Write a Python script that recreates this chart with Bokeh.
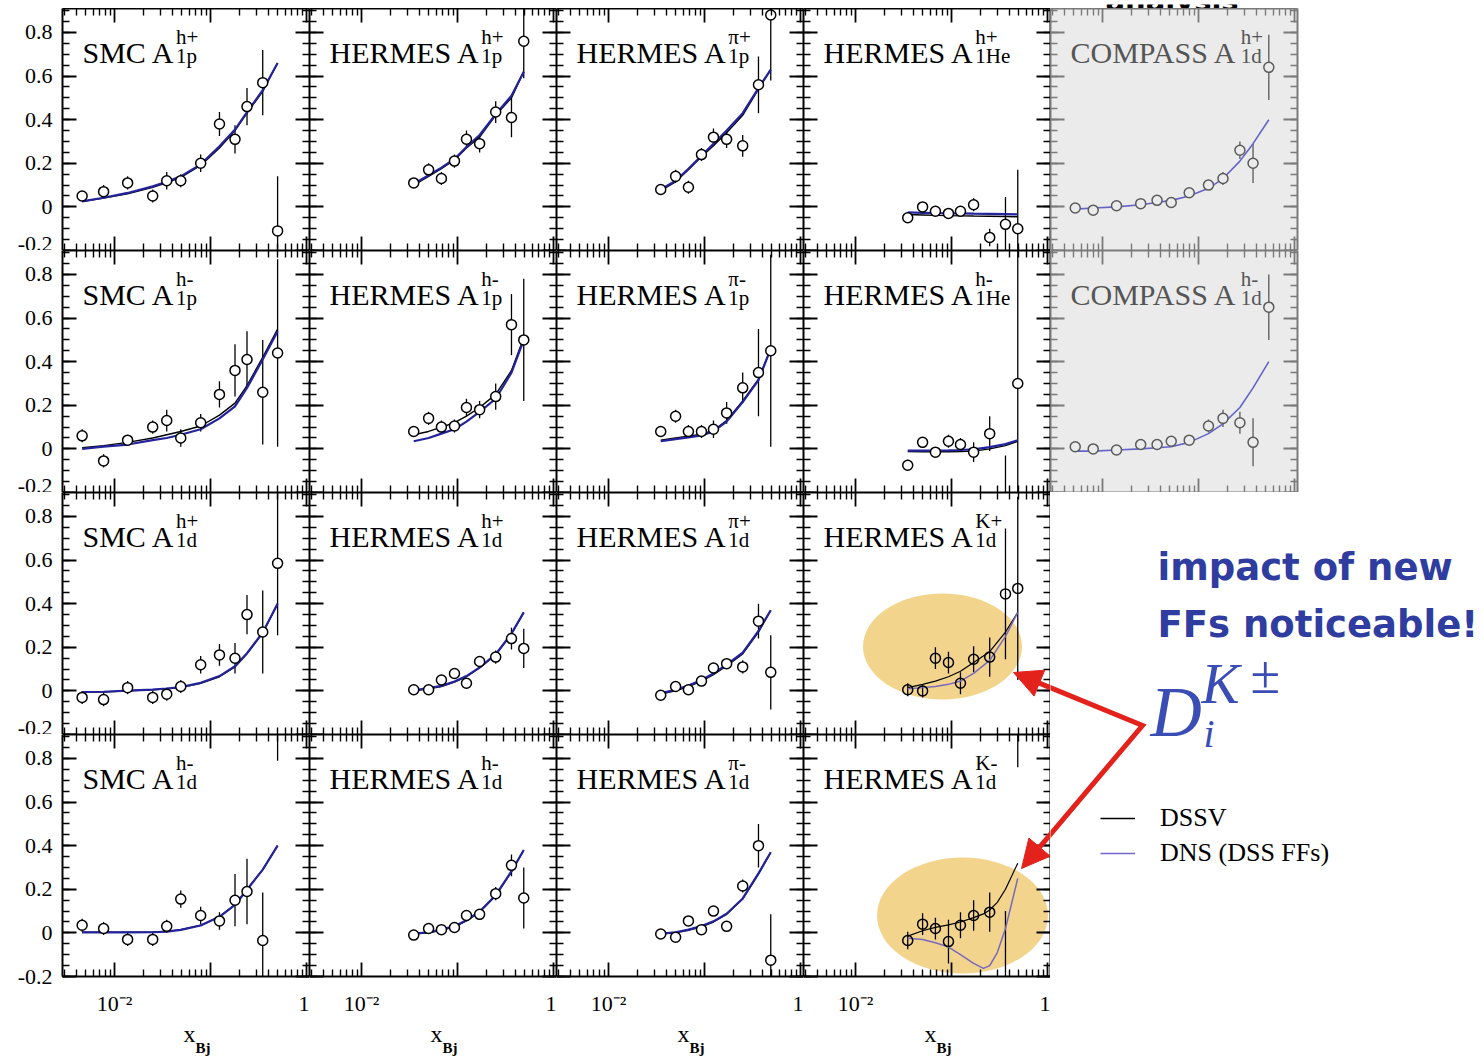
import math
from bokeh.plotting import figure
from bokeh.models import (Range1d, FixedTicker, CustomJSTickFormatter, LinearAxis, LogAxis,
                          Label, Arrow, NormalHead, Legend, LegendItem)
from bokeh.layouts import row, column
from bokeh.embed import file_html
from bokeh.resources import INLINE

# ------------------------------------------------------------------ data
SMC_X = [0.0046, 0.0077, 0.0137, 0.025, 0.035, 0.049, 0.079, 0.124, 0.18, 0.24, 0.35, 0.50]
HERMES_X = [0.035, 0.05, 0.068, 0.093, 0.124, 0.17, 0.25, 0.365, 0.49]
COMPASS_X = [0.0052, 0.008, 0.014, 0.025, 0.037, 0.052, 0.08, 0.127, 0.18, 0.27, 0.37, 0.54]
KMINUS_THEORY_X = [0.035, 0.05, 0.068, 0.093, 0.124, 0.17, 0.215, 0.25, 0.3, 0.365, 0.49]

# row 1
SMC_P_HP_Y = [0.05, 0.07, 0.11, 0.05, 0.12, 0.12, 0.20, 0.38, 0.31, 0.46, 0.57, -0.11]
SMC_P_HP_ERR = [0.02, 0.03, 0.03, 0.03, 0.04, 0.03, 0.04, 0.055, 0.065, 0.085, 0.15, 0.25]
SMC_P_HP_DSSV = [0.025, 0.04, 0.06, 0.09, 0.11, 0.135, 0.19, 0.27, 0.35, 0.43, 0.53, 0.66]
SMC_P_HP_DNS = [0.025, 0.042, 0.064, 0.094, 0.115, 0.14, 0.195, 0.278, 0.355, 0.435, 0.535, 0.66]

HER_P_HP_Y = [0.11, 0.17, 0.13, 0.21, 0.31, 0.29, 0.435, 0.41, 0.76]
HER_P_HP_ERR = [0.02, 0.03, 0.03, 0.03, 0.04, 0.04, 0.05, 0.09, 0.17]
HER_P_HP_DSSV = [0.10, 0.14, 0.175, 0.215, 0.27, 0.32, 0.42, 0.50, 0.62]
HER_P_HP_DNS = [0.105, 0.145, 0.18, 0.22, 0.275, 0.33, 0.425, 0.51, 0.62]

HER_P_PIP_Y = [0.08, 0.14, 0.09, 0.24, 0.32, 0.31, 0.28, 0.56, 0.88]
HER_P_PIP_ERR = [0.02, 0.03, 0.03, 0.03, 0.04, 0.04, 0.05, 0.13, 0.30]
HER_P_PIP_DSSV = [0.075, 0.115, 0.17, 0.23, 0.28, 0.34, 0.42, 0.54, 0.63]
HER_P_PIP_DNS = [0.08, 0.12, 0.175, 0.235, 0.29, 0.35, 0.43, 0.545, 0.63]

HER_HE_HP_Y = [-0.05, 0.0, -0.02, -0.03, -0.02, 0.01, -0.14, -0.08, -0.10]
HER_HE_HP_ERR = [0.015, 0.015, 0.015, 0.015, 0.015, 0.03, 0.04, 0.125, 0.27]
HER_HE_HP_DSSV = [-0.035, -0.037, -0.039, -0.04, -0.041, -0.042, -0.043, -0.044, -0.045]
HER_HE_HP_DNS = [-0.025, -0.027, -0.029, -0.03, -0.03, -0.031, -0.032, -0.033, -0.034]

COM_D_HP_Y = [-0.005, -0.015, 0.005, 0.015, 0.03, 0.02, 0.065, 0.10, 0.13, 0.26, 0.20, 0.64]
COM_D_HP_ERR = [0.01, 0.01, 0.01, 0.01, 0.01, 0.01, 0.015, 0.02, 0.03, 0.04, 0.09, 0.15]
COM_D_HP_DNS = [-0.01, -0.005, 0.0, 0.01, 0.02, 0.03, 0.05, 0.085, 0.13, 0.21, 0.29, 0.40]

# row 2
SMC_P_HM_Y = [0.06, -0.055, 0.04, 0.10, 0.13, 0.05, 0.12, 0.25, 0.36, 0.41, 0.26, 0.44]
SMC_P_HM_ERR = [0.03, 0.03, 0.02, 0.03, 0.05, 0.04, 0.04, 0.06, 0.12, 0.13, 0.24, 0.43]
SMC_P_HM_DSSV = [0.005, 0.015, 0.03, 0.05, 0.065, 0.08, 0.105, 0.155, 0.21, 0.29, 0.42, 0.55]
SMC_P_HM_DNS = [0.0, 0.01, 0.02, 0.04, 0.05, 0.065, 0.09, 0.14, 0.195, 0.28, 0.41, 0.54]

HER_P_HM_Y = [0.08, 0.14, 0.10, 0.105, 0.19, 0.18, 0.24, 0.57, 0.50]
HER_P_HM_ERR = [0.02, 0.03, 0.03, 0.03, 0.04, 0.04, 0.06, 0.14, 0.28]
HER_P_HM_DSSV = [0.065, 0.08, 0.10, 0.12, 0.15, 0.19, 0.25, 0.36, 0.51]
HER_P_HM_DNS = [0.035, 0.05, 0.07, 0.09, 0.125, 0.17, 0.23, 0.35, 0.50]

HER_P_PIM_Y = [0.08, 0.15, 0.08, 0.08, 0.09, 0.165, 0.28, 0.35, 0.45]
HER_P_PIM_ERR = [0.02, 0.03, 0.03, 0.03, 0.04, 0.05, 0.07, 0.2, 0.44]
HER_P_PIM_DSSV = [0.04, 0.05, 0.058, 0.067, 0.085, 0.13, 0.22, 0.32, 0.46]
HER_P_PIM_DNS = [0.035, 0.045, 0.053, 0.062, 0.08, 0.125, 0.215, 0.315, 0.46]

HER_HE_HM_Y = [-0.075, 0.03, -0.015, 0.035, 0.02, -0.015, 0.07, -0.35, 0.30]
HER_HE_HM_ERR = [0.025, 0.02, 0.02, 0.03, 0.03, 0.045, 0.08, 0.32, 0.9]
HER_HE_HM_DSSV = [-0.012, -0.013, -0.013, -0.013, -0.012, -0.01, 0.0, 0.015, 0.035]
HER_HE_HM_DNS = [-0.008, -0.008, -0.008, -0.007, -0.005, -0.002, 0.008, 0.022, 0.04]

COM_D_HM_Y = [0.01, 0.0, -0.005, 0.02, 0.02, 0.035, 0.04, 0.105, 0.14, 0.12, 0.03, 0.65]
COM_D_HM_ERR = [0.01, 0.01, 0.01, 0.01, 0.01, 0.015, 0.015, 0.03, 0.04, 0.05, 0.11, 0.15]
COM_D_HM_DNS = [-0.01, -0.01, -0.005, 0.0, 0.005, 0.01, 0.03, 0.07, 0.115, 0.19, 0.28, 0.40]

# row 3
SMC_D_HP_Y = [-0.03, -0.04, 0.015, -0.03, -0.015, 0.02, 0.12, 0.165, 0.15, 0.35, 0.27, 0.585]
SMC_D_HP_ERR = [0.03, 0.03, 0.03, 0.03, 0.03, 0.03, 0.04, 0.05, 0.07, 0.09, 0.19, 0.33]
SMC_D_HP_DSSV = [-0.005, -0.005, 0.0, 0.005, 0.01, 0.015, 0.035, 0.065, 0.11, 0.17, 0.265, 0.40]
SMC_D_HP_DNS = [-0.005, -0.004, 0.001, 0.006, 0.011, 0.017, 0.037, 0.068, 0.113, 0.173, 0.268, 0.40]

HER_D_HP_Y = [0.005, 0.005, 0.05, 0.08, 0.035, 0.135, 0.155, 0.24, 0.195]
HER_D_HP_ERR = [0.015, 0.015, 0.02, 0.02, 0.02, 0.025, 0.03, 0.05, 0.09]
HER_D_HP_DSSV = [0.0, 0.01, 0.02, 0.04, 0.065, 0.105, 0.165, 0.26, 0.36]
HER_D_HP_DNS = [0.003, 0.013, 0.023, 0.043, 0.068, 0.108, 0.168, 0.263, 0.36]

HER_D_PIP_Y = [-0.02, 0.02, 0.005, 0.045, 0.105, 0.125, 0.11, 0.32, 0.085]
HER_D_PIP_ERR = [0.015, 0.015, 0.02, 0.02, 0.02, 0.025, 0.03, 0.08, 0.17]
HER_D_PIP_DSSV = [-0.015, 0.0, 0.02, 0.045, 0.075, 0.115, 0.17, 0.27, 0.37]
HER_D_PIP_DNS = [-0.01, 0.005, 0.025, 0.05, 0.08, 0.12, 0.175, 0.275, 0.37]

HER_D_KP_Y = [0.005, 0.0, 0.15, 0.13, 0.035, 0.145, 0.155, 0.445, 0.47]
HER_D_KP_ERR = [0.03, 0.03, 0.05, 0.05, 0.05, 0.06, 0.09, 0.30, 0.42]
HER_D_KP_DSSV = [0.015, 0.03, 0.045, 0.065, 0.09, 0.13, 0.18, 0.27, 0.36]
HER_D_KP_DNS = [0.01, 0.015, 0.02, 0.03, 0.045, 0.08, 0.14, 0.25, 0.36]

# row 4
SMC_D_HM_Y = [0.035, 0.02, -0.03, -0.03, 0.03, 0.155, 0.08, 0.055, 0.15, 0.19, -0.035, 1.2]
SMC_D_HM_ERR = [0.03, 0.03, 0.03, 0.03, 0.03, 0.04, 0.04, 0.04, 0.12, 0.15, 0.22, 0.41]
SMC_D_HM_DSSV = [0.003, 0.003, 0.003, 0.004, 0.007, 0.015, 0.035, 0.075, 0.13, 0.20, 0.29, 0.40]
SMC_D_HM_DNS = [0.002, 0.002, 0.002, 0.003, 0.006, 0.014, 0.034, 0.074, 0.128, 0.198, 0.29, 0.40]

HER_D_HM_Y = [-0.01, 0.02, 0.015, 0.025, 0.08, 0.085, 0.18, 0.31, 0.16]
HER_D_HM_ERR = [0.015, 0.015, 0.015, 0.02, 0.02, 0.025, 0.03, 0.05, 0.14]
HER_D_HM_DSSV = [-0.005, 0.0, 0.012, 0.028, 0.055, 0.095, 0.17, 0.28, 0.38]
HER_D_HM_DNS = [-0.003, 0.003, 0.015, 0.031, 0.058, 0.098, 0.173, 0.283, 0.38]

HER_D_PIM_Y = [-0.005, -0.02, 0.055, 0.015, 0.10, 0.03, 0.215, 0.40, -0.125]
HER_D_PIM_ERR = [0.015, 0.015, 0.02, 0.02, 0.02, 0.025, 0.03, 0.10, 0.21]
HER_D_PIM_DSSV = [-0.005, 0.0, 0.012, 0.028, 0.05, 0.085, 0.155, 0.27, 0.37]
HER_D_PIM_DNS = [-0.003, 0.003, 0.015, 0.031, 0.053, 0.088, 0.158, 0.273, 0.37]

HER_D_KM_Y = [-0.035, 0.04, 0.02, -0.04, 0.035, 0.08, 0.095, -0.4, 1.3]
HER_D_KM_ERR = [0.04, 0.05, 0.05, 0.1, 0.06, 0.07, 0.09, 0.5, 0.54]
HER_D_KM_DSSV = [-0.015, 0.01, 0.025, 0.037, 0.05, 0.07, 0.087, 0.105, 0.14, 0.20, 0.32]
HER_D_KM_DNS = [-0.025, -0.03, -0.045, -0.065, -0.10, -0.14, -0.163, -0.15, -0.09, 0.02, 0.25]

Y_MAJOR = [-0.2, 0.0, 0.2, 0.4, 0.6, 0.8]
X_MAJOR = [0.01, 0.1, 1.0]
X_TICK_TEXT = ["10\u207b\u00b2", "", "1"]
LEGEND_LABELS = ["DSSV", "DNS (DSS FFs)"]
NOTE_LINES = ["impact of new", "FFs noticeable!"]

# (row, col, experiment, superscript, subscript, x, y, err, theory x, dssv, dns, style)
PANELS = [
    (0, 0, "SMC", "h+", "1p", SMC_X, SMC_P_HP_Y, SMC_P_HP_ERR, SMC_X, SMC_P_HP_DSSV, SMC_P_HP_DNS, "std"),
    (0, 1, "HERMES", "h+", "1p", HERMES_X, HER_P_HP_Y, HER_P_HP_ERR, HERMES_X, HER_P_HP_DSSV, HER_P_HP_DNS, "std"),
    (0, 2, "HERMES", "\u03c0+", "1p", HERMES_X, HER_P_PIP_Y, HER_P_PIP_ERR, HERMES_X, HER_P_PIP_DSSV, HER_P_PIP_DNS, "std"),
    (0, 3, "HERMES", "h+", "1He", HERMES_X, HER_HE_HP_Y, HER_HE_HP_ERR, HERMES_X, HER_HE_HP_DSSV, HER_HE_HP_DNS, "std"),
    (0, 4, "COMPASS", "h+", "1d", COMPASS_X, COM_D_HP_Y, COM_D_HP_ERR, COMPASS_X, None, COM_D_HP_DNS, "gray"),
    (1, 0, "SMC", "h-", "1p", SMC_X, SMC_P_HM_Y, SMC_P_HM_ERR, SMC_X, SMC_P_HM_DSSV, SMC_P_HM_DNS, "std"),
    (1, 1, "HERMES", "h-", "1p", HERMES_X, HER_P_HM_Y, HER_P_HM_ERR, HERMES_X, HER_P_HM_DSSV, HER_P_HM_DNS, "std"),
    (1, 2, "HERMES", "\u03c0-", "1p", HERMES_X, HER_P_PIM_Y, HER_P_PIM_ERR, HERMES_X, HER_P_PIM_DSSV, HER_P_PIM_DNS, "std"),
    (1, 3, "HERMES", "h-", "1He", HERMES_X, HER_HE_HM_Y, HER_HE_HM_ERR, HERMES_X, HER_HE_HM_DSSV, HER_HE_HM_DNS, "std"),
    (1, 4, "COMPASS", "h-", "1d", COMPASS_X, COM_D_HM_Y, COM_D_HM_ERR, COMPASS_X, None, COM_D_HM_DNS, "gray"),
    (2, 0, "SMC", "h+", "1d", SMC_X, SMC_D_HP_Y, SMC_D_HP_ERR, SMC_X, SMC_D_HP_DSSV, SMC_D_HP_DNS, "std"),
    (2, 1, "HERMES", "h+", "1d", HERMES_X, HER_D_HP_Y, HER_D_HP_ERR, HERMES_X, HER_D_HP_DSSV, HER_D_HP_DNS, "std"),
    (2, 2, "HERMES", "\u03c0+", "1d", HERMES_X, HER_D_PIP_Y, HER_D_PIP_ERR, HERMES_X, HER_D_PIP_DSSV, HER_D_PIP_DNS, "std"),
    (2, 3, "HERMES", "K+", "1d", HERMES_X, HER_D_KP_Y, HER_D_KP_ERR, HERMES_X, HER_D_KP_DSSV, HER_D_KP_DNS, "kaon"),
    (3, 0, "SMC", "h-", "1d", SMC_X, SMC_D_HM_Y, SMC_D_HM_ERR, SMC_X, SMC_D_HM_DSSV, SMC_D_HM_DNS, "std"),
    (3, 1, "HERMES", "h-", "1d", HERMES_X, HER_D_HM_Y, HER_D_HM_ERR, HERMES_X, HER_D_HM_DSSV, HER_D_HM_DNS, "std"),
    (3, 2, "HERMES", "\u03c0-", "1d", HERMES_X, HER_D_PIM_Y, HER_D_PIM_ERR, HERMES_X, HER_D_PIM_DSSV, HER_D_PIM_DNS, "std"),
    (3, 3, "HERMES", "K-", "1d", HERMES_X, HER_D_KM_Y, HER_D_KM_ERR, KMINUS_THEORY_X, HER_D_KM_DSSV, HER_D_KM_DNS, "kaon"),
]

# ------------------------------------------------------------------ geometry / style
FW, FH = 247, 242
LEFT, TOP, BOTTOM, STRIP = 62, 8, 46, 35
DEC = 96.0
LXMIN = -2 - 52 / DEC
LXMAX = LXMIN + FW / DEC
XMIN, XMAX = 10 ** LXMIN, 10 ** LXMAX
YMIN, YMAX = -0.2, 0.91
COL_L = [LEFT + FW * c for c in range(5)]
ROW_T = [TOP + FH * r for r in range(4)]
SERIF = "Liberation Serif"
BLUE = "#23239b"
KBLUE = "#7a68bd"
GBLUE = "#6464c8"
GRAY_BG = "#ebebeb"
RED = "#e3221c"
NOTE_BLUE = "#2f3ca0"
MATH_BLUE = "#3a4db5"
TITLE_SIZE = 30
SUP_SIZE = 21
DESC = 0.216  # serif descent (em) used to place 'bottom'-anchored labels on a baseline

X_MINOR = [m * 10.0 ** e for e in (-3, -2, -1) for m in range(2, 10)]
Y_MINOR = [round(-0.2 + 0.05 * i, 2) for i in range(23)]

TIMES_W = {' ': 250, 'A': 722, 'C': 667, 'E': 611, 'H': 722, 'M': 889, 'O': 722,
           'P': 556, 'R': 667, 'S': 556}


def text_w(s, size):
    return sum(TIMES_W.get(ch, 600) for ch in s) / 1000.0 * size


def page_to_data(px, py, c, r):
    lx = LXMIN + (px - COL_L[c]) / DEC
    y = YMAX - (py - ROW_T[r]) / FH * (YMAX - YMIN)
    return 10 ** lx, y


XFMT = CustomJSTickFormatter(args=dict(majors=X_MAJOR, texts=X_TICK_TEXT), code="""
for (let i = 0; i < majors.length; i++) {
  if (Math.abs(Math.log10(tick) - Math.log10(majors[i])) < 1e-6) return texts[i];
}
return "";
""")

YFMT = CustomJSTickFormatter(code="""
const v = Math.round(tick * 10) / 10;
return v == 0 ? "0" : v.toFixed(1);
""")


def style_axis(ax, color, fmt, standoff):
    ax.axis_line_color = color
    ax.axis_line_width = 2
    ax.major_tick_line_color = color
    ax.minor_tick_line_color = color
    ax.major_tick_line_width = 1.8
    ax.minor_tick_line_width = 1.4
    ax.major_tick_in = 14
    ax.major_tick_out = 0
    ax.minor_tick_in = 7
    ax.minor_tick_out = 0
    if fmt is not None:
        ax.formatter = fmt
        ax.major_label_text_font = SERIF
        ax.major_label_text_font_size = "22px"
        ax.major_label_text_color = "black"
        ax.major_label_standoff = standoff
    else:
        ax.major_label_text_font_size = "0px"
        ax.major_label_standoff = 0
        ax.major_label_text_alpha = 0


ELLIPSES = {(2, 3): (942, 646, 159, 106), (3, 3): (962, 915, 171, 116)}
VERTEX = (1142, 725)
TIPS = {(2, 3): (1013, 672), (3, 3): (1021, 868)}


def make_panel(r, c, exp, sup, sub, xs, ys, errs, tx, dssv, dns, style):
    gray = style == "gray"
    kaon = style == "kaon"
    right_pad = 2 if c == 4 else 0
    w = FW + (LEFT if c == 0 else 0) + right_pad
    h = FH + (BOTTOM if r == 3 else 0)
    bg = GRAY_BG if gray else "white"
    p = figure(width=w, height=h, x_axis_type="log",
               x_range=Range1d(XMIN, XMAX), y_range=Range1d(YMIN, YMAX),
               x_axis_location=None, y_axis_location=None, title=None,
               toolbar_location=None, output_backend="svg",
               min_border_left=LEFT if c == 0 else 0, min_border_right=right_pad,
               min_border_top=0, min_border_bottom=BOTTOM if r == 3 else 0,
               background_fill_color=bg, border_fill_color="white",
               outline_line_color=None)
    p.grid.visible = False
    axc = "#7a7a7a" if gray else "black"
    for loc in ("below", "above"):
        ax = LogAxis(ticker=FixedTicker(ticks=X_MAJOR, minor_ticks=X_MINOR))
        show = (loc == "below" and r == 3)
        style_axis(ax, axc, XFMT if show else None, 14)
        p.add_layout(ax, loc)
    for loc in ("left", "right"):
        show = (loc == "left" and c == 0)
        ax = LinearAxis(ticker=FixedTicker(ticks=Y_MAJOR, minor_ticks=Y_MINOR))
        style_axis(ax, axc, YFMT if show else None, 10)
        p.add_layout(ax, loc)

    if (r, c) in ELLIPSES:
        px, py, ew, eh = ELLIPSES[(r, c)]
        ex, ey = page_to_data(px, py, c, r)
        p.ellipse(x=[ex], y=[ey], width=[ew], height=[eh], width_units="screen",
                  height_units="screen", fill_color="#f3d48c", line_color=None)

    pcol = "#5a5a5a" if gray else "black"
    lo = [yy - e for yy, e in zip(ys, errs)]
    hi = [yy + e for yy, e in zip(ys, errs)]
    p.segment(x0=xs, y0=lo, x1=xs, y1=hi, line_color=pcol, line_width=1.3)

    if gray:
        p.line(tx, dns, line_color=GBLUE, line_width=1.6)
    elif kaon:
        p.line(tx, dssv, line_color="black", line_width=1.2)
        p.line(tx, dns, line_color=KBLUE, line_width=1.5)
    else:
        p.line(tx, dssv, line_color="black", line_width=1.4)
        p.line(tx, dns, line_color=BLUE, line_width=2.2)

    p.scatter(xs, ys, marker="circle", size=10, line_color=pcol, line_width=1.5,
              fill_color=None if kaon else bg)

    tcol = "#555555" if gray else "black"
    main = exp + " A"
    tw = text_w(main, TITLE_SIZE)
    p.add_layout(Label(x=20, y=FH - 54 - DESC * TITLE_SIZE, x_units="screen", y_units="screen",
                       text=main, text_font=SERIF, text_font_size=f"{TITLE_SIZE}px",
                       text_color=tcol, text_baseline="bottom"))
    p.add_layout(Label(x=20 + tw + 1, y=FH - 36 - DESC * SUP_SIZE, x_units="screen",
                       y_units="screen", text=sup, text_font=SERIF,
                       text_font_size=f"{SUP_SIZE}px", text_color=tcol,
                       text_baseline="bottom"))
    p.add_layout(Label(x=20 + tw + 1, y=FH - 55 - DESC * SUP_SIZE, x_units="screen",
                       y_units="screen", text=sub, text_font=SERIF,
                       text_font_size=f"{SUP_SIZE}px", text_color=tcol,
                       text_baseline="bottom"))

    if (r, c) in TIPS:
        sx, sy = page_to_data(VERTEX[0], VERTEX[1], c, r)
        tx_, ty_ = page_to_data(TIPS[(r, c)][0], TIPS[(r, c)][1], c, r)
        p.add_layout(Arrow(x_start=sx, y_start=sy, x_end=tx_, y_end=ty_, line_color=RED,
                           line_width=5, end=NormalHead(size=28, fill_color=RED,
                                                        line_color=RED)))
    return p


def blank(width, height, xr, yr):
    f = figure(width=width, height=height, x_range=Range1d(*xr), y_range=Range1d(*yr),
               x_axis_location=None, y_axis_location=None, title=None,
               toolbar_location=None, output_backend="svg", min_border=0,
               outline_line_color=None, background_fill_color="white",
               border_fill_color="white")
    f.grid.visible = False
    return f


figs = {}
for spec in PANELS:
    figs[(spec[0], spec[1])] = make_panel(*spec)

# ------------------------------------------------------------------ top strip (slide title remnant)
top = blank(1482, TOP, (0, 1482), (TOP, 0))
top.add_layout(Label(x=1105, y=7 + 0.236 * 29, text="analysis", text_font="DejaVu Sans",
                     text_font_style="bold", text_font_size="29px", text_color="black",
                     text_baseline="bottom"))

# ------------------------------------------------------------------ x-axis titles strip
strip_top = ROW_T[3] + FH + BOTTOM
xstrip = blank(COL_L[4], STRIP, (0, COL_L[4]), (strip_top + STRIP, strip_top))
for c in range(4):
    xstrip.add_layout(Label(x=COL_L[c] + 121, y=1041 + DESC * 24, text="x", text_font=SERIF,
                            text_font_size="24px", text_color="black", text_baseline="bottom"))
    xstrip.add_layout(Label(x=COL_L[c] + 133, y=1052 + DESC * 15, text="Bj", text_font=SERIF,
                            text_font_size="15px", text_font_style="bold", text_color="black",
                            text_baseline="bottom"))

# ------------------------------------------------------------------ annotation area
ann_h = 2 * FH + BOTTOM + STRIP
ann = blank(1482 - COL_L[4], ann_h, (COL_L[4], 1482), (ROW_T[2] + ann_h, ROW_T[2]))

ann.add_layout(Label(x=1157, y=580 + 0.236 * 37, text=NOTE_LINES[0], text_font="DejaVu Sans",
                     text_font_style="bold", text_font_size="37px", text_color=NOTE_BLUE,
                     text_baseline="bottom"))
ann.add_layout(Label(x=1157, y=637 + 0.236 * 37, text=NOTE_LINES[1], text_font="DejaVu Sans",
                     text_font_style="bold", text_font_size="37px", text_color=NOTE_BLUE,
                     text_baseline="bottom"))

ann.add_layout(Label(x=1150, y=735 + DESC * 71, text="D", text_font=SERIF,
                     text_font_style="italic", text_font_size="71px", text_color=MATH_BLUE,
                     text_baseline="bottom"))
ann.add_layout(Label(x=1201, y=702 + DESC * 57, text="K", text_font=SERIF,
                     text_font_style="italic", text_font_size="57px", text_color=MATH_BLUE,
                     text_baseline="bottom"))
ann.add_layout(Label(x=1250, y=693 + DESC * 54, text="\u00b1", text_font=SERIF,
                     text_font_size="54px", text_color=MATH_BLUE, text_baseline="bottom"))
ann.add_layout(Label(x=1203, y=747 + DESC * 40, text="i", text_font=SERIF,
                     text_font_style="italic", text_font_size="40px", text_color=MATH_BLUE,
                     text_baseline="bottom"))

t1, t2 = TIPS[(2, 3)], TIPS[(3, 3)]
ann.line(x=[t1[0], VERTEX[0], t2[0]], y=[t1[1], VERTEX[1], t2[1]], line_color=RED,
         line_width=5, line_join="miter")

# legend swatches (renderers kept outside the visible range; only the legend shows them)
r_dssv = ann.line(x=[0, 1], y=[0, 0], line_color="black", line_width=1.5)
r_dns = ann.line(x=[0, 1], y=[0, 0], line_color="#7068cc", line_width=1.5)
legend = Legend(items=[LegendItem(label=LEGEND_LABELS[0], renderers=[r_dssv]),
                       LegendItem(label=LEGEND_LABELS[1], renderers=[r_dns])],
                location=(50, ROW_T[2] + ann_h - 868), border_line_color=None,
                background_fill_alpha=0, padding=0, margin=0, spacing=5,
                glyph_width=35, glyph_height=20, label_standoff=25,
                label_text_font=SERIF, label_text_font_size="26px",
                label_text_color="black")
ann.add_layout(legend)

# ------------------------------------------------------------------ layout
rows12 = [row(*[figs[(r, c)] for c in range(5)]) for r in (0, 1)]
left_block = column(row(*[figs[(2, c)] for c in range(4)]),
                    row(*[figs[(3, c)] for c in range(4)]),
                    xstrip)
layout = column(top, rows12[0], rows12[1], row(left_block, ann))

open("out.html", "w").write(file_html(layout, INLINE))
